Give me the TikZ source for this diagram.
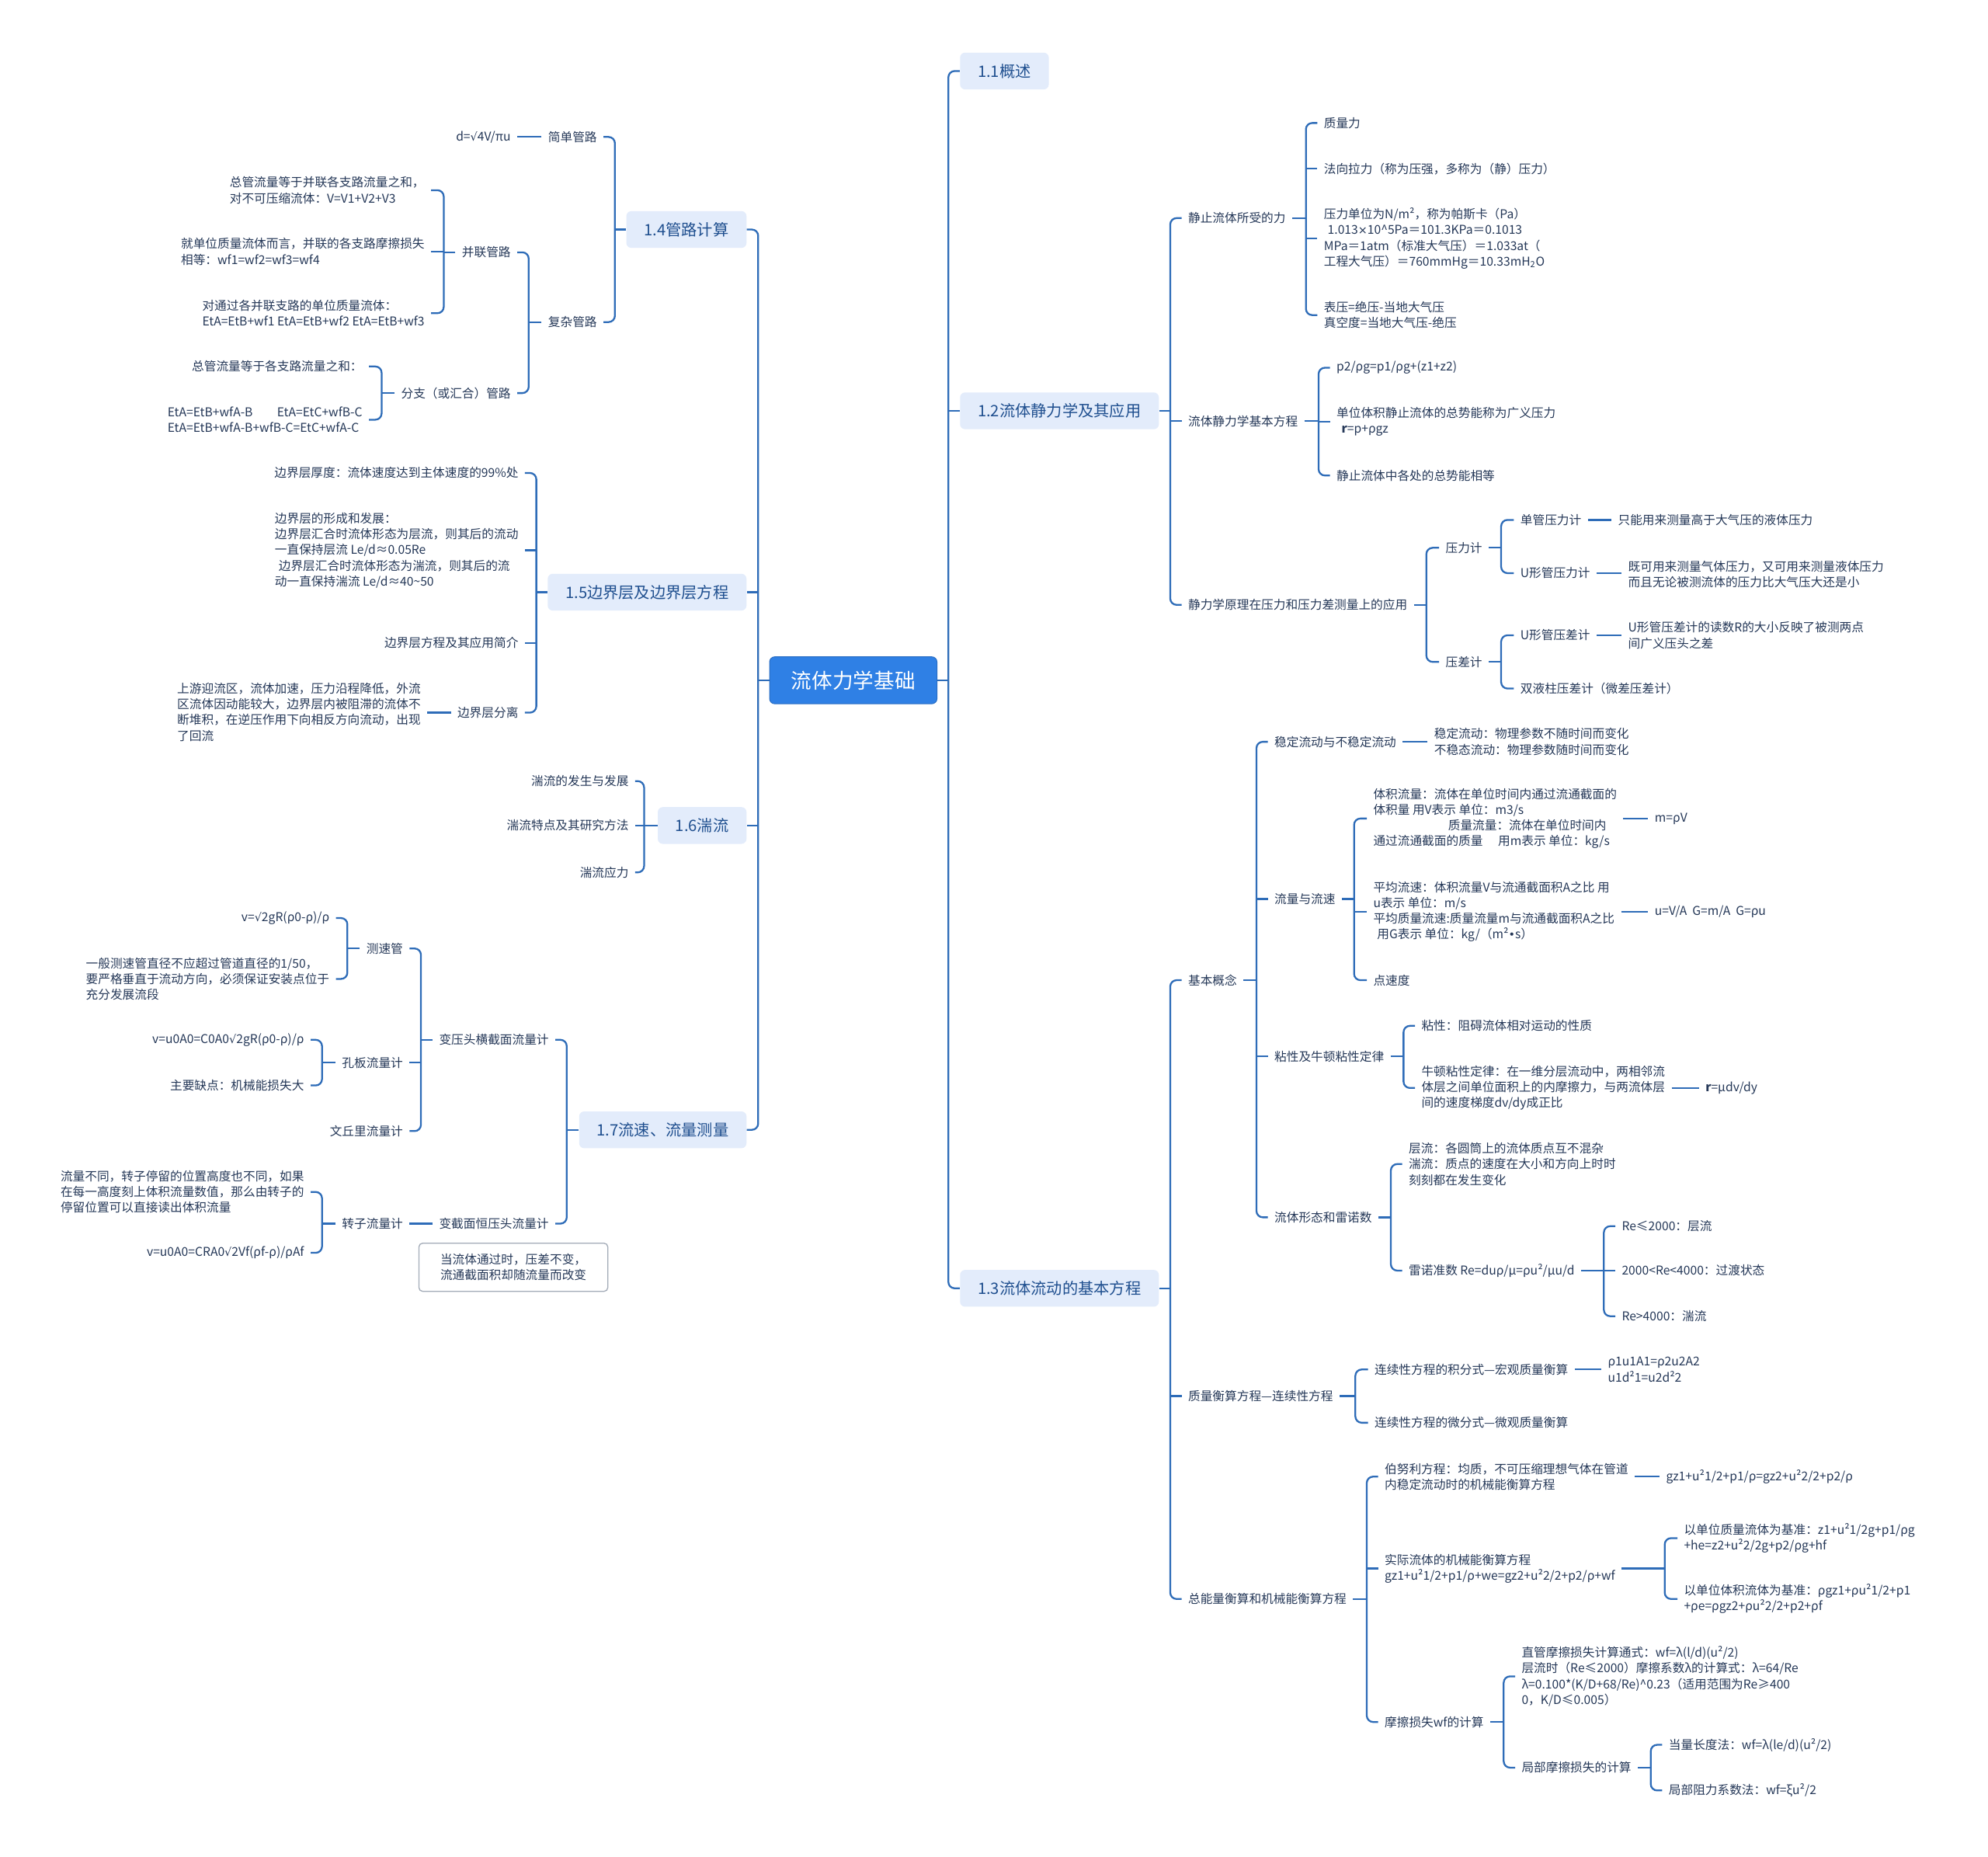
\documentclass[tikz,border=0pt]{standalone}
\usepackage{fontspec}
\setmainfont{Noto Sans CJK SC}
\newfontfamily\symf{DejaVu Sans}
\newcommand\sq{{\symf\fontsize{8.8}{12.4}\selectfont √}}
\newcommand\tms{{\symf\fontsize{8.8}{12.4}\selectfont ×}}
\newcommand\bul{{\symf\fontsize{8.8}{12.4}\selectfont •}}
\usetikzlibrary{calc}
\definecolor{lc}{HTML}{2E6CB8}
\definecolor{tc}{HTML}{253858}
\definecolor{sc}{HTML}{1F4F8F}
\definecolor{sf}{HTML}{E3ECFB}
\definecolor{rf}{HTML}{2F80E5}
\definecolor{cg}{HTML}{A3ABB8}
\tikzset{
  conn/.style={draw=lc, line width=1.4pt},
  tx/.style={font=\fontsize{9.6}{12.4}\selectfont, text=tc, inner xsep=5pt, inner ysep=1pt, align=left},
  rt/.style={tx, anchor=west},
  lt/.style={tx, anchor=east},
  secbox/.style={fill=sf, rounded corners=4pt, text=sc, font=\fontsize{12.4}{15}\selectfont, inner xsep=14pt, inner ysep=0pt, minimum height=29pt},
  secR/.style={secbox, anchor=west},
  secL/.style={secbox, anchor=east},
  rootbox/.style={fill=rf, draw=rf!85!black, line width=0.6pt, rounded corners=4pt, text=white, font=\fontsize{16.3}{20}\selectfont, minimum width=132pt, minimum height=37pt},
  callout/.style={draw=cg, line width=0.8pt, rounded corners=3pt, font=\fontsize{9.6}{12.4}\selectfont, text=tc, align=left, minimum width=149pt, minimum height=38pt, anchor=north west}
}
\newcommand\brR[6]{%
  \coordinate (#2) at (#3,#4);
  \draw[conn] (#1.east) -- (#2);
  \draw[conn,rounded corners=5pt] (#5.west) -| (#2) |- (#6.west);}
\newcommand\midR[2]{\draw[conn] (#1 |- #2.west) -- (#2.west);}
\newcommand\brL[6]{%
  \coordinate (#2) at (#3,#4);
  \draw[conn] (#1.west) -- (#2);
  \draw[conn,rounded corners=5pt] (#5.east) -| (#2) |- (#6.east);}
\newcommand\midL[2]{\draw[conn] (#1 |- #2.east) -- (#2.east);}
\newcommand\oneR[2]{\draw[conn] (#1.east) -- (#1.east -| #2.west);}
\newcommand\oneL[2]{\draw[conn] (#1.west) -- (#1.west -| #2.east);}
\begin{document}
\begin{tikzpicture}[x=1pt,y=-1pt]
\useasboundingbox (0,0) rectangle (1568,1464);
\fill[white] (0,0) rectangle (1568,1464);

% root and sections
\node[rootbox] (root) at (673,536.5) {流体力学基础};
\node[secR] (s11) at (757,56) {1.1概述};
\node[secR] (s12) at (757,324) {1.2流体静力学及其应用};
\node[secR] (s13) at (757,1016) {1.3流体流动的基本方程};
\node[secL] (s14) at (589,181) {1.4管路计算};
\node[secL] (s15) at (589,467) {1.5边界层及边界层方程};
\node[secL] (s16) at (589,651) {1.6湍流};
\node[secL] (s17) at (589,891) {1.7流速、流量测量};

% 1.2
\node[rt] (a1) at (932,172) {静止流体所受的力};
\node[rt] (a2) at (932,332) {流体静力学基本方程};
\node[rt] (a3) at (932,477) {静力学原理在压力和压力差测量上的应用};
\node[rt] (a11) at (1039,97) {质量力};
\node[rt] (a12) at (1039,133) {法向拉力（称为压强，多称为（静）压力）};
\node[rt] (a13) at (1039,188) {压力单位为N/m²，称为帕斯卡（Pa）\\\hspace*{3pt}1.013\tms 10\textasciicircum 5Pa＝101.3KPa＝0.1013\\MPa＝1atm（标准大气压）＝1.033at（\\工程大气压）＝760mmHg＝10.33mH\textsubscript{2}O};
\node[rt] (a14) at (1039,248.5) {表压=绝压-当地大气压\\真空度=当地大气压-绝压};
\node[rt] (a21) at (1049,290) {p2/ρg=p1/ρg+(z1+z2)};
\node[rt] (a22) at (1049,332.5) {单位体积静止流体的总势能称为广义压力\\\hspace*{4pt}\textbf{r}=p+ρgz};
\node[rt] (a23) at (1049,375) {静止流体中各处的总势能相等};
\node[rt] (a31) at (1135,432) {压力计};
\node[rt] (a32) at (1135,522) {压差计};
\node[rt] (a311) at (1194,410) {单管压力计};
\node[rt] (a3111) at (1271,410) {只能用来测量高于大气压的液体压力};
\node[rt] (a312) at (1194,452) {U形管压力计};
\node[rt] (a3121) at (1279,453) {既可用来测量气体压力，又可用来测量液体压力\\而且无论被测流体的压力比大气压大还是小};
\node[rt] (a321) at (1194,501) {U形管压差计};
\node[rt] (a3211) at (1279,501) {U形管压差计的读数R的大小反映了被测两点\\间广义压头之差};
\node[rt] (a322) at (1194,543) {双液柱压差计（微差压差计）};

% 1.3
\node[rt] (b1) at (932,773) {基本概念};
\node[rt] (b2) at (932,1101) {质量衡算方程—连续性方程};
\node[rt] (b3) at (932,1261) {总能量衡算和机械能衡算方程};
\node[rt] (b11) at (1000,585) {稳定流动与不稳定流动};
\node[rt] (b111) at (1126,585) {稳定流动：物理参数不随时间而变化\\不稳态流动：物理参数随时间而变化};
\node[rt] (b12) at (1000,709) {流量与流速};
\node[rt] (b121) at (1078,645.5) {体积流量：流体在单位时间内通过流通截面的\\体积量 用V表示 单位：m3/s\\\hspace*{59pt}质量流量：流体在单位时间内\\通过流通截面的质量\hspace{12pt}用m表示 单位：kg/s};
\node[rt] (b1211) at (1300,645.5) {m=ρV};
\node[rt] (b122) at (1078,719) {平均流速：体积流量V与流通截面积A之比 用\\u表示 单位：m/s\\平均质量流速:质量流量m与流通截面积A之比\\\hspace*{3pt}用G表示 单位：kg/（m²\bul s）};
\node[rt] (b1221) at (1300,719) {u=V/A\ \ G=m/A\ \ G=ρu};
\node[rt] (b123) at (1078,773) {点速度};
\node[rt] (b13) at (1000,833) {粘性及牛顿粘性定律};
\node[rt] (b131) at (1116,809) {粘性：阻碍流体相对运动的性质};
\node[rt] (b132) at (1116,858) {牛顿粘性定律：在一维分层流动中，两相邻流\\体层之间单位面积上的内摩擦力，与两流体层\\间的速度梯度dv/dy成正比};
\node[rt] (b1321) at (1340,858) {\textbf{r}=μdv/dy};
\node[rt] (b14) at (1000,960) {流体形态和雷诺数};
\node[rt] (b141) at (1106,918) {层流：各圆筒上的流体质点互不混杂\\湍流：质点的速度在大小和方向上时时\\刻刻都在发生变化};
\node[rt] (b142) at (1106,1002) {雷诺准数 Re=duρ/μ=ρu²/μu/d};
\node[rt] (r1) at (1274,967) {Re≤2000：层流};
\node[rt] (r2) at (1274,1002) {2000<Re<4000：过渡状态};
\node[rt] (r3) at (1274,1038) {Re>4000：湍流};
\node[rt] (b21) at (1079,1080) {连续性方程的积分式—宏观质量衡算};
\node[rt] (b211) at (1263,1080) {ρ1u1A1=ρ2u2A2\\u1d²1=u2d²2};
\node[rt] (b22) at (1079,1122) {连续性方程的微分式—微观质量衡算};
\node[rt] (b31) at (1087,1164.5) {伯努利方程：均质，不可压缩理想气体在管道\\内稳定流动时的机械能衡算方程};
\node[rt] (b311) at (1309,1164.5) {gz1+u²1/2+p1/ρ=gz2+u²2/2+p2/ρ};
\node[rt] (b32) at (1087,1237) {实际流体的机械能衡算方程\\gz1+u²1/2+p1/ρ+we=gz2+u²2/2+p2/ρ+wf};
\node[rt] (b321) at (1323,1213) {以单位质量流体为基准：z1+u²1/2g+p1/ρg\\+he=z2+u²2/2g+p2/ρg+hf};
\node[rt] (b322) at (1323,1261) {以单位体积流体为基准：ρgz1+ρu²1/2+p1\\+ρe=ρgz2+ρu²2/2+p2+ρf};
\node[rt] (b33) at (1087,1358) {摩擦损失wf的计算};
\node[rt] (b331) at (1195,1322) {直管摩擦损失计算通式：wf=λ(l/d)(u²/2)\\层流时（Re≤2000）摩擦系数λ的计算式：λ=64/Re\\λ=0.100*(K/D+68/Re)\textasciicircum 0.23（适用范围为Re≥400\\0，K/D≤0.005）};
\node[rt] (b332) at (1195,1394) {局部摩擦损失的计算};
\node[rt] (b3321) at (1311,1376) {当量长度法：wf=λ(le/d)(u²/2)};
\node[rt] (b3322) at (1311,1412) {局部阻力系数法：wf=ξu²/2};

% 1.4
\node[lt] (c1) at (476,108) {简单管路};
\node[lt] (c11) at (408,108) {d=\sq 4V/πu};
\node[lt] (c2) at (476,254) {复杂管路};
\node[lt] (c21) at (408,199) {并联管路};
\node[lt] (c22) at (408,310) {分支（或汇合）管路};
\node[lt] (c211) at (340,150) {总管流量等于并联各支路流量之和，\\对不可压缩流体：V=V1+V2+V3};
\node[lt] (c212) at (340,198.5) {就单位质量流体而言，并联的各支路摩擦损失\\相等：wf1=wf2=wf3=wf4};
\node[lt] (c213) at (340,247) {对通过各并联支路的单位质量流体：\\EtA=EtB+wf1 EtA=EtB+wf2 EtA=EtB+wf3};
\node[lt] (c221) at (291,289) {总管流量等于各支路流量之和：};
\node[lt] (c222) at (291,331) {EtA=EtB+wfA-B\hspace{2em}EtA=EtC+wfB-C\\EtA=EtB+wfA-B+wfB-C=EtC+wfA-C};

% 1.5
\node[lt] (d1) at (414,373) {边界层厚度：流体速度达到主体速度的99\%处};
\node[lt] (d2) at (414,434) {边界层的形成和发展：\\边界层汇合时流体形态为层流，则其后的流动\\一直保持层流 Le/d≈0.05Re\\\hspace*{3pt}边界层汇合时流体形态为湍流，则其后的流\\动一直保持湍流 Le/d≈40\textasciitilde 50};
\node[lt] (d3) at (414,507) {边界层方程及其应用简介};
\node[lt] (d4) at (414,562) {边界层分离};
\node[lt] (d41) at (337,561.5) {上游迎流区，流体加速，压力沿程降低，外流\\区流体因动能较大，边界层内被阻滞的流体不\\断堆积，在逆压作用下向相反方向流动，出现\\了回流};

% 1.6
\node[lt] (e1) at (501,616) {湍流的发生与发展};
\node[lt] (e2) at (501,651) {湍流特点及其研究方法};
\node[lt] (e3) at (501,688) {湍流应力};

% 1.7
\node[lt] (f1) at (438,820) {变压头横截面流量计};
\node[lt] (f2) at (438,965) {变截面恒压头流量计};
\node[lt] (f11) at (323,748) {测速管};
\node[lt] (f12) at (323,838) {孔板流量计};
\node[lt] (f13) at (323,892) {文丘里流量计};
\node[lt] (f111) at (265,724) {v=\sq 2gR(ρ0-ρ)/ρ};
\node[lt] (f112) at (265,772) {一般测速管直径不应超过管道直径的1/50，\\要严格垂直于流动方向，必须保证安装点位于\\充分发展流段};
\node[lt] (f121) at (245,820) {v=u0A0=C0A0\sq 2gR(ρ0-ρ)/ρ};
\node[lt] (f122) at (245,856) {主要缺点：机械能损失大};
\node[lt] (f21) at (323,965) {转子流量计};
\node[lt] (f211) at (245,940) {流量不同，转子停留的位置高度也不同，如果\\在每一高度刻上体积流量数值，那么由转子的\\停留位置可以直接读出体积流量};
\node[lt] (f212) at (245,988) {v=u0A0=CRA0\sq 2Vf(ρf-ρ)/ρAf};
\node[callout] (note) at (330,980) {当流体通过时，压差不变，\\流通截面积却随流量而改变};

% connectors: root
\brR{root}{rbR}{748}{536.5}{s11}{s13}
\midR{rbR}{s12}
\brL{root}{rbL}{598}{536.5}{s14}{s17}
\midL{rbL}{s15}
\midL{rbL}{s16}

% 1.2
\brR{s12}{k12}{923}{324}{a1}{a3}
\midR{k12}{a2}
\brR{a1}{ka1}{1030}{172}{a11}{a14}
\midR{ka1}{a12}
\midR{ka1}{a13}
\brR{a2}{ka2}{1040}{332}{a21}{a23}
\midR{ka2}{a22}
\brR{a3}{ka3}{1125}{477}{a31}{a32}
\brR{a31}{ka31}{1184}{432}{a311}{a312}
\oneR{a311}{a3111}
\oneR{a312}{a3121}
\brR{a32}{ka32}{1184}{522}{a321}{a322}
\oneR{a321}{a3211}

% 1.3
\brR{s13}{k13}{923}{1016}{b1}{b3}
\midR{k13}{b2}
\brR{b1}{kb1}{991}{773}{b11}{b14}
\midR{kb1}{b12}
\midR{kb1}{b13}
\oneR{b11}{b111}
\brR{b12}{kb12}{1068}{709}{b121}{b123}
\midR{kb12}{b122}
\oneR{b121}{b1211}
\oneR{b122}{b1221}
\brR{b13}{kb13}{1107}{833}{b131}{b132}
\oneR{b132}{b1321}
\brR{b14}{kb14}{1097}{960}{b141}{b142}
\brR{b142}{kb142}{1265}{1002}{r1}{r3}
\midR{kb142}{r2}
\brR{b2}{kb2}{1069}{1101}{b21}{b22}
\oneR{b21}{b211}
\brR{b3}{kb3}{1078}{1261}{b31}{b33}
\midR{kb3}{b32}
\oneR{b31}{b311}
\brR{b32}{kb32}{1313}{1237}{b321}{b322}
\brR{b33}{kb33}{1186}{1358}{b331}{b332}
\brR{b332}{kb332}{1302}{1394}{b3321}{b3322}

% 1.4
\brL{s14}{k14}{485}{181}{c1}{c2}
\oneL{c1}{c11}
\brL{c2}{kc2}{417}{254}{c21}{c22}
\brL{c21}{kc21}{350}{199}{c211}{c213}
\midL{kc21}{c212}
\brL{c22}{kc22}{301}{310}{c221}{c222}

% 1.5
\brL{s15}{k15}{423}{467}{d1}{d4}
\midL{k15}{d2}
\midL{k15}{d3}
\oneL{d4}{d41}

% 1.6
\brL{s16}{k16}{508}{651}{e1}{e3}
\midL{k16}{e2}

% 1.7
\brL{s17}{k17}{447}{891}{f1}{f2}
\brL{f1}{kf1}{332}{820}{f11}{f13}
\midL{kf1}{f12}
\brL{f11}{kf11}{274}{748}{f111}{f112}
\brL{f12}{kf12}{254}{838}{f121}{f122}
\oneL{f2}{f21}
\brL{f21}{kf21}{254}{965}{f211}{f212}
\end{tikzpicture}
\end{document}
